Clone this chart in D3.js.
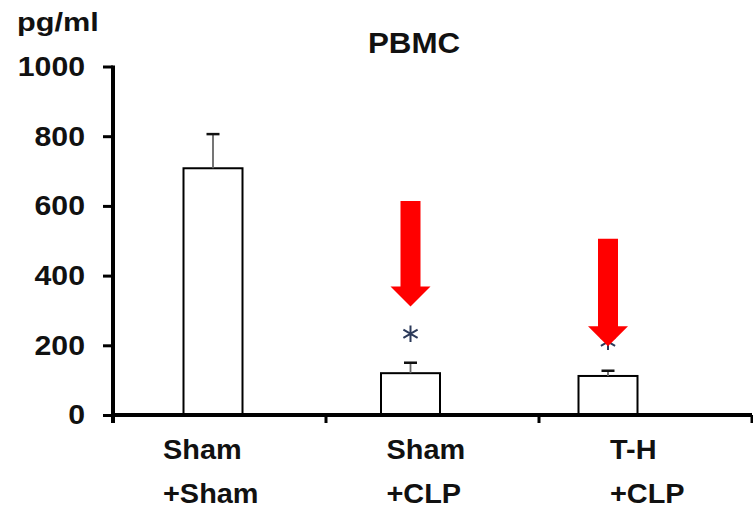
<!DOCTYPE html>
<html><head><meta charset="utf-8">
<script src="https://cdn.jsdelivr.net/npm/d3@7"></script>
<style>
body{margin:0;background:#fff}
svg{display:block}
text{font-family:"Liberation Sans",Arial,sans-serif;font-weight:bold;fill:#111}
</style>
</head><body>
<svg id="c" width="753" height="510"></svg>
<script>
// ---- data ----
const categories = ["Sham+Sham", "Sham+CLP", "T-H+CLP"];
const labelLine1 = ["Sham", "Sham", "T-H"];
const labelLine2 = ["+Sham", "+CLP", "+CLP"];
const means = [708, 120, 112];
const errors = [98, 30, 15];
const significant = [false, true, true];
const yTicks = [0, 200, 400, 600, 800, 1000];
const arrowCats = ["Sham+CLP", "T-H+CLP"];
const arrowTop = [614, 506];
const arrowTip = [311, 197];
const title = "PBMC";
const unit = "pg/ml";

// ---- drawing ----
const svg = d3.select("#c");
const y = d3.scaleLinear().domain([0, 1000]).range([415, 66.5]);
const xAxisBand = d3.scaleBand().domain(categories).range([113, 752]);
const xBar = d3.scalePoint().domain(categories).range([213, 608]);
const xLabel = d3.scalePoint().domain(categories).range([163, 610]);
const barW = 59;

function stext(g, str, x, yy, size, sx, anchor) {
  return g.append("text")
    .attr("transform", `translate(${x},${yy}) scale(${sx},1)`)
    .attr("text-anchor", anchor || "start")
    .style("font-size", size + "px")
    .text(str);
}

// bars
const data = categories.map((c, i) => ({c, m: means[i], e: errors[i], s: significant[i]}));
svg.append("g").selectAll("rect").data(data).join("rect")
  .attr("x", d => xBar(d.c) - barW / 2)
  .attr("y", d => y(d.m))
  .attr("width", barW)
  .attr("height", d => y(0) - y(d.m))
  .attr("fill", "#fff").attr("stroke", "#000").attr("stroke-width", 2);

// error bars
const eg = svg.append("g");
eg.selectAll("line.stem").data(data).join("line").attr("class", "stem")
  .attr("x1", d => xBar(d.c)).attr("x2", d => xBar(d.c))
  .attr("y1", d => y(d.m)).attr("y2", d => y(d.m + d.e))
  .attr("stroke", "#666").attr("stroke-width", 1.8);
eg.selectAll("line.cap").data(data).join("line").attr("class", "cap")
  .attr("x1", d => xBar(d.c) - 6.5).attr("x2", d => xBar(d.c) + 6.5)
  .attr("y1", d => y(d.m + d.e)).attr("y2", d => y(d.m + d.e))
  .attr("stroke", "#111").attr("stroke-width", 2.5);

// asterisks
svg.append("g").selectAll("path").data(data.filter(d => d.s)).join("path")
  .attr("transform", d => `translate(${xBar(d.c)},${y(d.m + d.e) - 29})`)
  .attr("d", d3.symbol(d3.symbolAsterisk, 190))
  .attr("fill", "none").attr("stroke", "#2c3a5a").attr("stroke-width", 2);

// y axis
const yAxis = svg.append("g").attr("transform", "translate(113,0)")
  .call(d3.axisLeft(y).tickValues(yTicks).tickFormat(d3.format("d")).tickSize(10).tickSizeOuter(0));
yAxis.select(".domain").remove();
yAxis.selectAll(".tick line").attr("stroke", "#000").attr("stroke-width", 3);
yAxis.selectAll(".tick text")
  .attr("x", 0)
  .attr("dy", "0.32em")
  .attr("transform", "translate(-28,0) scale(1.08,1)")
  .attr("text-anchor", "end")
  .attr("fill", "#111")
  .style("font-size", "28px")
  .style("font-family", '"Liberation Sans",Arial,sans-serif')
  .style("font-weight", "bold");
svg.append("line")
  .attr("x1", 113).attr("x2", 113)
  .attr("y1", y(1000) - 1).attr("y2", y(0) + 8)
  .attr("stroke", "#000").attr("stroke-width", 4);

// x axis
const xr = xAxisBand.range();
svg.append("line")
  .attr("x1", xr[0]).attr("x2", xr[1])
  .attr("y1", y(0)).attr("y2", y(0))
  .attr("stroke", "#000").attr("stroke-width", 4);
const bounds = categories.map(c => xAxisBand(c)).concat([xr[1]]);
svg.append("g").selectAll("line").data(bounds).join("line")
  .attr("x1", d => d).attr("x2", d => d)
  .attr("y1", y(0)).attr("y2", y(0) + 8)
  .attr("stroke", "#000").attr("stroke-width", 3);

// arrows
svg.append("g").selectAll("path").data(arrowCats.map((c, i) => ({c, t: arrowTop[i], p: arrowTip[i]}))).join("path")
  .attr("d", d => {
    const cx = xBar(d.c), top = y(d.t), tip = y(d.p), hb = tip - 20;
    return `M${cx - 10},${top}L${cx + 10},${top}L${cx + 10},${hb}L${cx + 20},${hb}L${cx},${tip}L${cx - 20},${hb}L${cx - 10},${hb}Z`;
  })
  .attr("fill", "#ff0000");

// category labels
const lg = svg.append("g");
categories.forEach((c, i) => {
  stext(lg, labelLine1[i], xLabel(c), 459, 27, 1.07);
  stext(lg, labelLine2[i], xLabel(c), 503, 27, 1.07);
});

// title and unit
stext(svg, title, 414, 53, 29, 1.08, "middle");
stext(svg, unit, 17, 31, 26, 1.18);
</script>
</body></html>
